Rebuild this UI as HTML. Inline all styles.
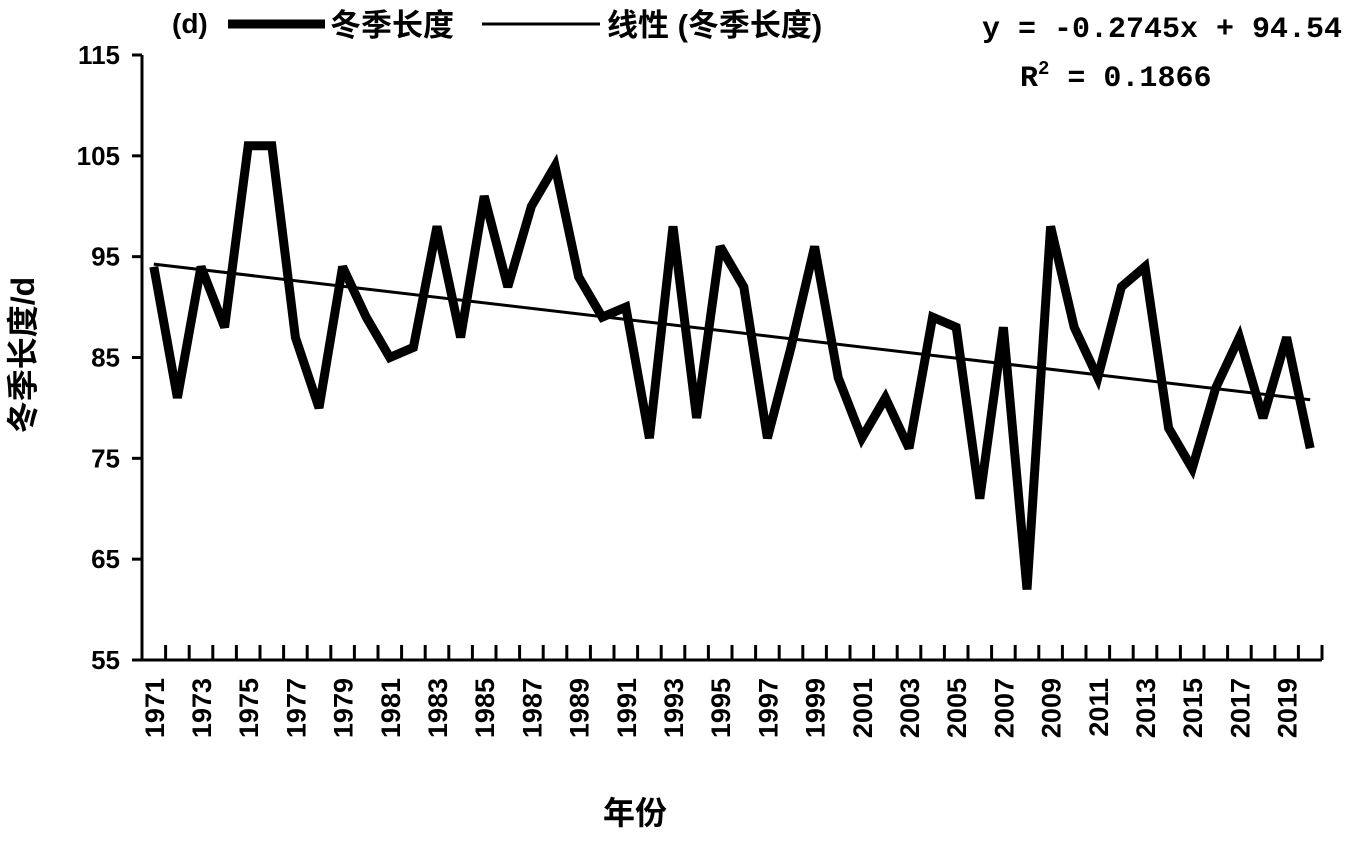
<!DOCTYPE html>
<html><head><meta charset="utf-8"><style>
body{margin:0;background:#fff;}
svg text{font-family:"Liberation Sans","Noto Sans CJK SC",sans-serif;font-weight:bold;fill:#000;}
</style></head><body>
<svg id="c" width="1348" height="836">
<g id="g"></g>
<text x="34" y="355" font-size="32" transform="rotate(-90 34 355)" text-anchor="middle">冬季长度/d</text>
<text x="635" y="824" font-size="32" text-anchor="middle">年份</text>
<g>
<text x="172" y="33" font-size="28">(d)</text>
<line x1="228" y1="24" x2="325" y2="24" stroke="#000" stroke-width="9"/>
<text x="330" y="36" font-size="31">冬季长度</text>
<line x1="482" y1="24" x2="600" y2="24" stroke="#000" stroke-width="3"/>
<text x="607" y="36" font-size="31">线性 (冬季长度)</text>
</g>
<text x="1342" y="37" font-size="30" text-anchor="end" style="font-family:'Liberation Mono',monospace">y = -0.2745x + 94.54</text>
<text x="1020" y="86" font-size="30" style="font-family:'Liberation Mono',monospace">R<tspan dy="-12" font-size="19">2</tspan><tspan dy="12"> = 0.1866</tspan></text>
</svg>
<script>
const years=[];for(let y=1971;y<=2020;y++)years.push(y);
const values=[94,81,94,88,106,106,87,80,94,89,85,86,98,87,101,92,100,104,93,89,90,77,98,79,96,92,77,86,96,83,77,81,76,89,88,71,88,62,98,88,83,92,94,78,74,82,87,79,87,76];
const yTicks=[55,65,75,85,95,105,115];
const slope=-0.2745, intercept=94.54;
const L=142,R=1322,T=55,B=660;
const n=years.length, step=(R-L)/n;
const xs=i=>L+step*(i+0.5);
const ys=v=>B-(v-55)/60*(B-T);
const g=document.getElementById('g');
const NS='http://www.w3.org/2000/svg';
function mk(t,a,p){const e=document.createElementNS(NS,t);for(const k in a)e.setAttribute(k,a[k]);(p||g).appendChild(e);return e;}
let ax=mk('path',{d:`M${L},${T} V${B} H${R}`,stroke:'#000','stroke-width':3,fill:'none'});


yTicks.forEach(v=>{
 const t=mk('line',{x1:L-10,x2:L,y1:ys(v),y2:ys(v),stroke:'#000','stroke-width':3});
 
 
 const tx=mk('text',{x:L-22,y:ys(v)+9,'text-anchor':'end','font-size':26});
 tx.textContent=v;
 
 
});
for(let i=1;i<=n;i++){
 const x=L+step*i;
 const t=mk('line',{x1:x,x2:x,y1:B,y2:B-15,stroke:'#000','stroke-width':3});
 
 
}
years.forEach((y,i)=>{
 if(i%2)return;
 const x=xs(i)+10,yy=678;
 const tx=mk('text',{x:x,y:yy,transform:`rotate(-90 ${x} ${yy})`,'text-anchor':'end','font-size':27});
 tx.textContent=y;
 
 
});
const pl=mk('polyline',{points:values.map((v,i)=>xs(i)+','+ys(v)).join(' '),fill:'none',stroke:'#000','stroke-width':9,'stroke-linejoin':'miter','stroke-miterlimit':3});


const tr=mk('line',{x1:xs(0),y1:ys(slope*1+intercept),x2:xs(n-1),y2:ys(slope*n+intercept),stroke:'#000','stroke-width':3});


</script>
</body></html>
